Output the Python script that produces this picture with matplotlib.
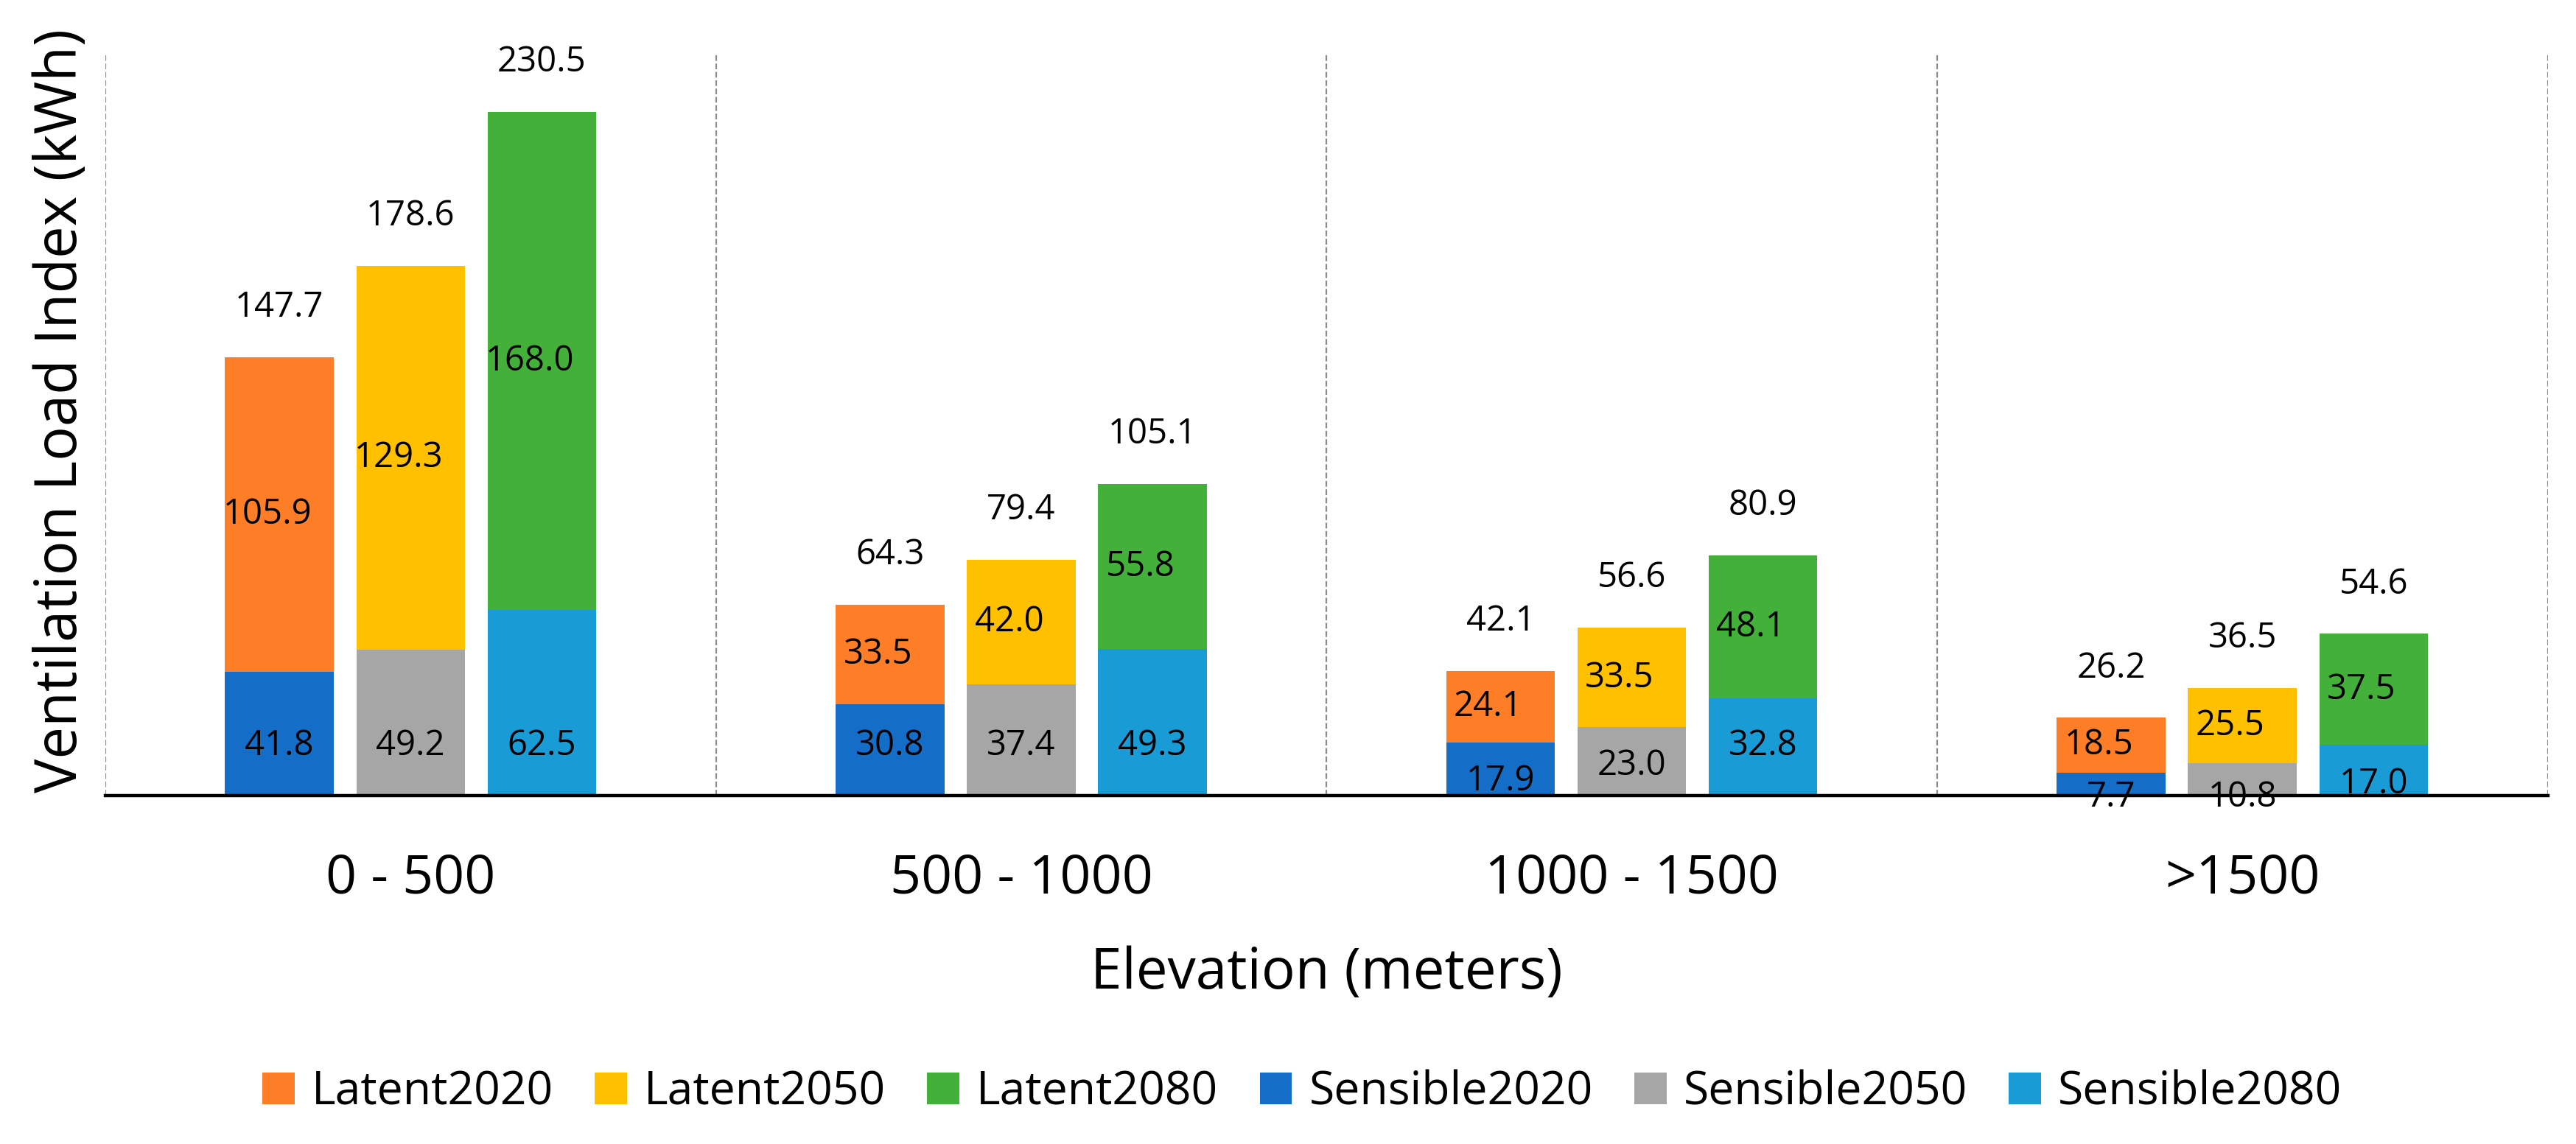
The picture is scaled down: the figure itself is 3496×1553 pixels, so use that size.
import numpy as np
import matplotlib
matplotlib.use('Agg')
import matplotlib.pyplot as plt

plt.rcParams['font.family'] = ['Open Sans', 'DejaVu Sans']

# Data
elevations = ['0 - 500', '500 - 1000', '1000 - 1500', '>1500']
years = ['2020', '2050', '2080']

sensible2020 = [41.8, 30.8, 17.9, 7.7]
sensible2050 = [49.2, 37.4, 23.0, 10.8]
sensible2080 = [62.5, 49.3, 32.8, 17.0]
latent2020 = [105.9, 33.5, 24.1, 18.5]
latent2050 = [129.3, 42.0, 33.5, 25.5]
latent2080 = [168.0, 55.8, 48.1, 37.5]
total2020 = [147.7, 64.3, 42.1, 26.2]
total2050 = [178.6, 79.4, 56.6, 36.5]
total2080 = [230.5, 105.1, 80.9, 54.6]

sensible = [sensible2020, sensible2050, sensible2080]
latent = [latent2020, latent2050, latent2080]
totals = [total2020, total2050, total2080]

latent_colors = ['#FD7E26', '#FFC000', '#43B03A']
sensible_colors = ['#146EC8', '#A6A6A6', '#199BD6']

fig = plt.figure(figsize=(17.48, 7.765), dpi=200)
ax = fig.add_axes([0.0409, 0.3046, 0.9481, 0.6484])

x = np.arange(len(elevations))
width = 0.178
step = 0.215

latent_handles = []
sensible_handles = []
for i, yr in enumerate(years):
    pos = x + (i - 1) * step
    s = np.array(sensible[i])
    l = np.array(latent[i])
    hs = ax.bar(pos, s, width, color=sensible_colors[i], label='Sensible' + yr, zorder=2)
    hl = ax.bar(pos, l, width, bottom=s, color=latent_colors[i], label='Latent' + yr, zorder=2)
    sensible_handles.append(hs)
    latent_handles.append(hl)

    for j in range(len(x)):
        # sensible label sits near the base, latent label in its segment
        ys = min(max(s[j] - 13, -0.5), 16.8)
        ax.text(pos[j], ys, f'{s[j]:.1f}', ha='center', va='center', fontsize=17, color='black', zorder=3)
        ax.text(pos[j] - 0.02, s[j] + l[j] / 2, f'{l[j]:.1f}', ha='center', va='center', fontsize=17,
                color='black', zorder=3)
        ax.text(pos[j], s[j] + l[j] + 16.8, f'{totals[i][j]:.1f}', ha='center', va='center', fontsize=17,
                color='black', zorder=3)

ax.set_xlim(-0.5, len(elevations) - 0.5)
ax.set_ylim(0, 250)

# dashed separators between elevation groups
for b in np.arange(-0.5, len(elevations), 1.0):
    ax.axvline(b, color='#8C8C8C', linewidth=0.8, dashes=(3.5, 1.6), zorder=1)

for side in ['left', 'right', 'top']:
    ax.spines[side].set_visible(False)
ax.spines['bottom'].set_linewidth(1.6)
ax.spines['bottom'].set_color('black')
ax.spines['bottom'].set_zorder(4)

ax.set_yticks([])
ax.set_xticks(x)
ax.set_xticklabels(elevations, fontsize=26.5)
ax.tick_params(axis='x', length=0, pad=27.5)

fig.text(0.515, 0.1359, 'Elevation (meters)', ha='center', va='baseline', fontsize=27.5)
fig.text(0.024, 0.641, 'Ventilation Load Index (kWh)', ha='center', va='center', rotation=90, fontsize=28)

handles = latent_handles + sensible_handles
labels = ['Latent' + y for y in years] + ['Sensible' + y for y in years]
fig.legend(handles, labels, loc='center', bbox_to_anchor=(0.5055, 0.045), ncol=6, frameon=False,
           fontsize=22.5, handlelength=0.7, handleheight=0.7, handletextpad=0.37, columnspacing=0.9)

fig.savefig('out.png', dpi=200)
